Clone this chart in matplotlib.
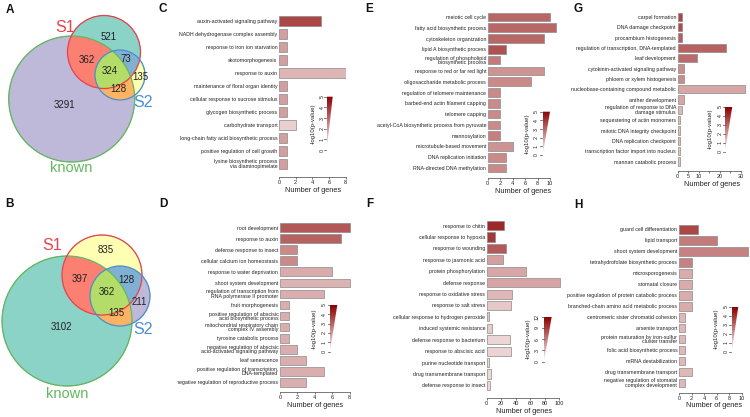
import numpy as np
import matplotlib
matplotlib.use('Agg')
import matplotlib.pyplot as plt
from matplotlib.colors import LinearSegmentedColormap, to_rgba
from matplotlib.patches import Circle, Polygon
from matplotlib.transforms import Bbox, TransformedBbox

plt.rcParams['font.family'] = ['Liberation Sans', 'DejaVu Sans']

# ---------------- data ----------------
venn_regions = ['known only', 'S1 only', 'S2 only', 'S1&known', 'S2&known', 'S1&S2', 'all']
venn_a_counts = [3291, 521, 135, 362, 128, 73, 324]
venn_b_counts = [3102, 835, 211, 397, 135, 128, 362]

c_labels = ["auxin-activated signaling pathway", "NADH dehydrogenase complex assembly",
            "response to iron ion starvation", "skotomorphogenesis", "response to auxin",
            "maintenance of floral organ identity", "cellular response to sucrose stimulus",
            "glycogen biosynthetic process", "carbohydrate transport",
            "long-chain fatty acid biosynthetic process", "positive regulation of cell growth",
            "lysine biosynthetic process\nvia diaminopimelate"]
c_counts = [5, 1, 1, 1, 8, 1, 1, 1, 2, 1, 1, 1]
c_logp = [3.6, 1.9, 1.9, 1.9, 1.45, 1.9, 1.9, 1.9, 0.95, 1.9, 1.9, 1.9]

d_labels = ["root development", "response to auxin", "defense response to insect",
            "cellular calcium ion homeostasis", "response to water deprivation",
            "shoot system development", "regulation of transcription from\nRNA polymerase II promoter",
            "fruit morphogenesis", "positive regulation of abscisic\nacid biosynthetic process",
            "mitochondrial respiratory chain\ncomplex IV assembly", "tyrosine catabolic process",
            "negative regulation of abscisic\nacid-activated signaling pathway", "leaf senescence",
            "positive regulation of transcription,\nDNA-templated",
            "negative regulation of reproductive process"]
d_counts = [8, 7, 2, 2, 6, 8, 5, 1, 1, 1, 1, 2, 3, 5, 3]
d_logp = [3.3, 3.1, 2.3, 2.3, 1.65, 1.5, 1.6, 1.6, 1.6, 1.6, 1.6, 1.6, 1.6, 1.6, 1.6]

e_labels = ["meiotic cell cycle", "fatty acid biosynthetic process", "cytoskeleton organization",
            "lipid A biosynthetic process", "regulation of phospholipid\nbiosynthetic process",
            "response to red or far red light", "oligosaccharide metabolic process",
            "regulation of telomere maintenance", "barbed-end actin filament capping",
            "telomere capping", "acetyl-CoA biosynthetic process from pyruvate", "mannosylation",
            "microtubule-based movement", "DNA replication initiation", "RNA-directed DNA methylation"]
e_counts = [10, 11, 9, 3, 2, 9, 7, 2, 2, 2, 2, 2, 4, 3, 3]
e_logp = [3.0, 3.0, 3.0, 3.4, 2.6, 2.1, 2.3, 2.3, 2.3, 2.3, 2.3, 2.5, 2.1, 2.3, 2.3]

f_labels = ["response to chitin", "cellular response to hypoxia", "response to wounding",
            "response to jasmonic acid", "protein phosphorylation", "defense response",
            "response to oxidative stress", "response to salt stress",
            "cellular response to hydrogen peroxide", "induced systemic resistance",
            "defense response to bacterium", "response to abscisic acid",
            "purine nucleotide transport", "drug transmembrane transport", "defense response to insect"]
f_counts = [24, 11, 26, 23, 54, 101, 35, 34, 3, 7, 32, 34, 3, 6, 4]
f_logp = [10.1, 9.3, 7.8, 4.5, 4.2, 4.3, 3.3, 2.6, 2.8, 2.4, 2.0, 2.1, 1.8, 1.8, 1.9]

g_labels = ["carpel formation", "DNA damage checkpoint", "procambium histogenesis",
            "regulation of transcription, DNA-templated", "leaf development",
            "cytokinin-activated signaling pathway", "phloem or xylem histogenesis",
            "nucleobase-containing compound metabolic", "anther development",
            "regulation of response to DNA\ndamage stimulus", "sequestering of actin monomers",
            "mitotic DNA integrity checkpoint", "DNA replication checkpoint",
            "transcription factor import into nucleus", "mannan catabolic process"]
g_counts = [2, 2, 2, 23, 9, 3, 3, 32, 3, 2, 1, 1, 1, 1, 1]
g_logp = [3.6, 3.5, 3.2, 3.1, 2.9, 2.25, 2.25, 1.75, 1.75, 1.4, 1.25, 1.25, 1.25, 1.1, 1.1]

h_labels = ["guard cell differentiation", "lipid transport", "shoot system development",
            "tetrahydrofolate biosynthetic process", "microsporogenesis", "stomatal closure",
            "positive regulation of protein catabolic process",
            "branched-chain amino acid metabolic process", "centromeric sister chromatid cohesion",
            "arsenite transport", "protein maturation by iron-sulfur\ncluster transfer",
            "folic acid biosynthetic process", "mRNA destabilization", "drug transmembrane transport",
            "negative regulation of stomatal\ncomplex development"]
h_counts = [3, 6, 11, 2, 2, 2, 2, 2, 1, 1, 1, 1, 1, 2, 1]
h_logp = [3.6, 2.6, 2.45, 2.45, 1.65, 1.65, 1.65, 1.65, 1.4, 1.4, 1.4, 1.4, 1.4, 1.4, 1.4]

ticks_5 = [0, 1, 2, 3, 4, 5]
ticks_12 = [0, 3, 6, 9, 12]

# ---------------- figure ----------------
W, H = 750, 417
fig = plt.figure(figsize=(7.5, 4.17), dpi=100)
base = fig.add_axes([0, 0, 1, 1])
base.axis('off')

cmap = LinearSegmentedColormap.from_list('wr', ['#ffffff', '#8b0000'])
TXT = '#222222'


def px_axes(l, t, r, b):
    return fig.add_axes([l / W, 1 - b / H, (r - l) / W, (b - t) / H])


def bar_panel(labels, counts, logp, vmax, x0, ppu, xmax, ticks, ticklabels,
              bar_top, bar_bot, axis_y, clip_left):
    n = len(labels)
    s = (bar_bot - bar_top) / (n - 1 + 0.8)
    top = bar_top - 0.1 * s
    ylow = n - 1 + 0.4 + (axis_y - bar_bot) / s
    ax = px_axes(x0, top, x0 + xmax * ppu, axis_y)
    colors = cmap(np.clip(np.array(logp) / vmax, 0, 1))
    y = np.arange(n)
    ax.barh(y, counts, height=0.8, color=colors, edgecolor='#8a8a8a', linewidth=0.5)
    ax.set_ylim(ylow, -0.5)
    ax.set_xlim(0, xmax)
    for sp in ['top', 'right', 'left']:
        ax.spines[sp].set_visible(False)
    ax.spines['bottom'].set_bounds(ticks[0], ticks[-1])
    ax.spines['bottom'].set_linewidth(0.5)
    ax.spines['bottom'].set_color('#444444')
    ax.set_xticks(ticks)
    ax.set_xticklabels(ticklabels, fontsize=4, color=TXT)
    ax.tick_params(axis='x', length=1.5, width=0.5, pad=0.8, color='#444444')
    ax.set_yticks(y)
    ax.set_yticklabels(labels, fontsize=3.8, linespacing=0.85, color=TXT)
    ax.tick_params(axis='y', length=0, pad=1.2)
    ax.set_xlabel('Number of genes', fontsize=5.3, labelpad=1, color=TXT)
    ax.patch.set_visible(False)
    clip = TransformedBbox(Bbox([[clip_left / W, 0], [1, 1]]), fig.transFigure)
    for tk in ax.yaxis.get_major_ticks():
        tk.label1.set_clip_box(clip)
        tk.label1.set_clip_on(True)
    return ax


def wedge(l, r, t, b, vmax, ticks, tick_x, label_x):
    grad = np.linspace(1, 0, 256)[:, None]
    im = base.imshow(grad, cmap=cmap, vmin=0, vmax=1, extent=[l, r, b, t],
                     origin='upper', aspect='auto', zorder=2)
    poly = Polygon([[l, t], [r, t], [l, b]], closed=True, transform=base.transData,
                   facecolor='none', edgecolor='none')
    base.add_patch(poly)
    im.set_clip_path(poly)
    for v in ticks:
        yy = b - (b - t) * v / vmax
        base.plot([l - 2.5, l - 0.3], [yy, yy], color='#444444', lw=0.5)
        base.text(tick_x, yy, str(v), rotation=90, fontsize=3.8, ha='center',
                  va='center', color=TXT)
    base.text(label_x, (t + b) / 2, '-log10(p-value)', rotation=90, fontsize=4.3,
              ha='center', va='center', color=TXT)


def venn(circles, fills, counts, count_pos, lab_pos, box):
    x0, x1, y0, y1 = box
    res = 4
    xs = np.linspace(x0, x1, int((x1 - x0) * res))
    ys = np.linspace(y0, y1, int((y1 - y0) * res))
    X, Y = np.meshgrid(xs, ys)
    code = np.zeros(X.shape, int)
    for i, (cx, cy, r, ec) in enumerate(circles):
        code += ((X - cx) ** 2 + (Y - cy) ** 2 <= r ** 2).astype(int) << i
    img = np.zeros(X.shape + (4,))
    for c, col in fills.items():
        img[code == c] = to_rgba(col)
    base.imshow(img, extent=[x0, x1, y1, y0], origin='upper', aspect='auto',
                interpolation='bilinear', zorder=1)
    for cx, cy, r, ec in circles:
        base.add_patch(Circle((cx, cy), r, fill=False, ec=ec, lw=0.9, zorder=3))
    for v, (px, py) in zip(counts, count_pos):
        base.text(px, py, str(v), fontsize=7, ha='center', va='center', color=TXT, zorder=4)
    for txt, (px, py), col, fs in lab_pos:
        base.text(px, py, txt, fontsize=fs, ha='center', va='center', color=col, zorder=4)


GREEN, RED, BLUE = '#62b85e', '#e5434b', '#4a8fcd'
# codes: known=1, S1=2, S2=4
venn([(71.7, 99, 63, GREEN), (104, 52, 36.5, RED), (120, 75, 25, BLUE)],
     {1: '#BEBADA', 2: '#8DD3C7', 4: '#FFFFB3', 3: '#FB8072', 5: '#FDB462', 6: '#80B1D3', 7: '#B3DE69'},
     venn_a_counts,
     [(65, 105), (108.3, 36.7), (140, 77), (87.3, 60), (118.3, 89.3), (126, 59.3), (110, 71)],
     [('S1', (65, 27.3), RED, 11.5), ('S2', (143.3, 102.7), BLUE, 11.5),
      ('known', (71, 168), GREEN, 10.5)],
     (0, 175, 10, 175))
venn([(67, 321, 65, GREEN), (102, 275, 40, RED), (120, 296, 30, BLUE)],
     {1: '#8DD3C7', 2: '#FFFFB3', 4: '#BEBADA', 3: '#FB8072', 5: '#FDB462', 6: '#80B1D3', 7: '#B3DE69'},
     venn_b_counts,
     [(61.7, 327.3), (106, 250), (139.3, 301.7), (80, 279), (116, 313.3), (126.7, 280), (107.3, 292.3)],
     [('S1', (51.7, 245), RED, 11.5), ('S2', (143.3, 329), BLUE, 11.5),
      ('known', (66.7, 394), GREEN, 10.5)],
     (0, 175, 230, 400))

# bar panels
bar_panel(c_labels, c_counts, c_logp, 5, 279, 8.33, 8.1, [0, 2, 4, 6, 8], ['0', '2', '4', '6', '8'],
          15.7, 169, 177, 168)
bar_panel(d_labels, d_counts, d_logp, 5, 280, 8.72, 8.15, [0, 2, 4, 6, 8], ['0', '2', '4', '6', '8'],
          223.3, 386.7, 392, 177)
bar_panel(e_labels, e_counts, e_logp, 5, 487.7, 6.23, 11.3, [0, 2, 4, 6, 8, 10],
          ['0', '2', '4', '6', '8', '10'], 12.7, 172.3, 178, 340)
bar_panel(f_labels, f_counts, f_logp, 12, 486.7, 0.727, 102, [0, 20, 40, 60, 80, 100],
          ['0', '20', '40', '60', '80', '100'], 221, 390, 398, 340)
bar_panel(g_labels, g_counts, g_logp, 5, 677.7, 2.11, 32.5, [0, 5, 10, 15, 20, 25, 30],
          ['0', '5', '10', '', '20', '', '30'], 12.7, 165.7, 171, 565.5)
bar_panel(h_labels, h_counts, h_logp, 5, 679, 6.27, 11.2, [0, 2, 4, 6, 8, 10],
          ['0', '2', '4', '6', '8', '10'], 225, 387.3, 392.7, 565.5)

# colour wedges
wedge(326.7, 332.7, 96.7, 150, 5, ticks_5, 322.3, 313)
wedge(330, 337.3, 305, 351.7, 5, ticks_5, 324, 314.5)
wedge(542.7, 550, 111.7, 155, 5, ticks_5, 536.5, 527)
wedge(544, 551.7, 316.7, 361.7, 12, ticks_12, 537.5, 528)
wedge(725, 732.3, 106.7, 151.7, 5, ticks_5, 720, 710.5)
wedge(731.7, 738.3, 306.7, 351.7, 5, ticks_5, 726, 716)

# panel letters
for letter, (px, py) in zip('ABCDEFGH', [(10, 9.5), (10, 204), (163, 9), (163, 204),
                                          (369, 9), (370, 204), (578, 8.5), (578, 205)]):
    base.text(px, py, letter, fontsize=8.5, fontweight='bold', ha='center', va='center', color='#111111')

base.set_xlim(0, W)
base.set_ylim(H, 0)
fig.savefig('out.png', dpi=100)
